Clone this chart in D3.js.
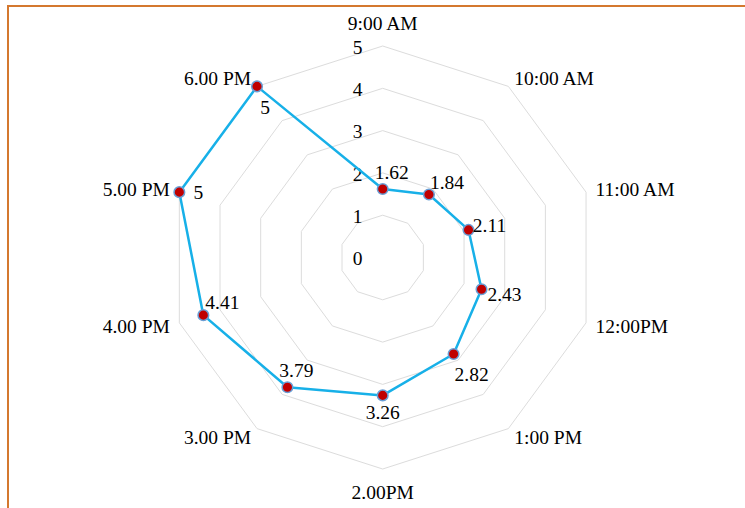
<!DOCTYPE html>
<html>
<head>
<meta charset="utf-8">
<script src="https://cdn.jsdelivr.net/npm/d3@7"></script>
<style>
  html, body { margin: 0; padding: 0; background: #fff; }
  svg { display: block; }
  text { font-family: "Liberation Serif", "DejaVu Serif", serif; fill: #000; }
</style>
</head>
<body>
<svg id="chart" width="745" height="508"></svg>
<script>
// ---- data ----
const categories = ["9:00 AM", "10:00 AM", "11:00 AM", "12:00PM", "1:00 PM", "2.00PM", "3.00 PM", "4.00 PM", "5.00 PM", "6.00 PM"];
const values = [1.62, 1.84, 2.11, 2.43, 2.82, 3.26, 3.79, 4.41, 5, 5];
const tickValues = [0, 1, 2, 3, 4, 5];

// ---- layout ----
const W = 745, H = 508;
const cx = 382.7, cy = 257.5;
const R = 211.5, kx = 1.011;
const FS = 19.5;
// label offsets for data labels (layout only)
const labelOffsets = [[9,-17],[18,-12],[21,-5],[23,5],[18,20],[0,17],[9,-17],[19,-13],[19,0],[8,21]];

const svg = d3.select("#chart");
svg.append("rect").attr("width", W).attr("height", H).attr("fill", "#fff");

// frame (orange border, only top and left visible)
svg.append("rect")
  .attr("x", 8).attr("y", 6).attr("width", 900).attr("height", 700)
  .attr("fill", "none").attr("stroke", "#d4782f").attr("stroke-width", 2);

const r = d3.scaleLinear().domain([0, 5]).range([0, R]);
const step = 2 * Math.PI / categories.length;
function pt(i, v) {
  const a = i * step;
  return [cx + kx * r(v) * Math.sin(a), cy - r(v) * Math.cos(a)];
}

const g = svg.append("g");

// grid rings
tickValues.filter(t => t > 0).forEach(t => {
  const pts = categories.map((c, i) => pt(i, t));
  g.append("path")
    .attr("d", d3.line()(pts) + "Z")
    .attr("fill", "none")
    .attr("stroke", "#dcdcdc")
    .attr("stroke-width", 1);
});

// tick labels
g.selectAll("text.tick").data(tickValues).join("text")
  .attr("class", "tick")
  .attr("x", cx - 25)
  .attr("y", d => cy - r(d) + 1)
  .attr("dy", "0.35em")
  .attr("text-anchor", "middle")
  .attr("font-size", FS)
  .text(d => d);

// category labels
categories.forEach((c, i) => {
  const a = i * step;
  const s = Math.sin(a), co = Math.cos(a);
  const [vx, vy] = pt(i, 5);
  let anchor, x, y;
  if (Math.abs(s) < 0.1) {
    anchor = "middle"; x = vx; y = vy - co * 23;
  } else {
    anchor = s > 0 ? "start" : "end";
    x = vx + s * 10; y = vy - co * 10;
  }
  g.append("text")
    .attr("x", x).attr("y", y).attr("dy", "0.35em")
    .attr("text-anchor", anchor)
    .attr("font-size", FS)
    .text(c);
});

// series line
const seriesPts = values.map((v, i) => pt(i, v));
g.append("path")
  .attr("d", d3.line()(seriesPts) + "Z")
  .attr("fill", "none")
  .attr("stroke", "#17b0e8")
  .attr("stroke-width", 2.5)
  .attr("stroke-linejoin", "round");

// markers
g.selectAll("circle.m").data(values).join("circle")
  .attr("class", "m")
  .attr("cx", (d, i) => pt(i, d)[0])
  .attr("cy", (d, i) => pt(i, d)[1])
  .attr("r", 5.3)
  .attr("fill", "#c00000")
  .attr("stroke", "#6a9fd6")
  .attr("stroke-width", 1.5);

// data labels
g.selectAll("text.val").data(values).join("text")
  .attr("class", "val")
  .attr("x", (d, i) => pt(i, d)[0] + labelOffsets[i][0])
  .attr("y", (d, i) => pt(i, d)[1] + labelOffsets[i][1])
  .attr("dy", "0.35em")
  .attr("text-anchor", "middle")
  .attr("font-size", FS)
  .text(d => d);
</script>
</body>
</html>
